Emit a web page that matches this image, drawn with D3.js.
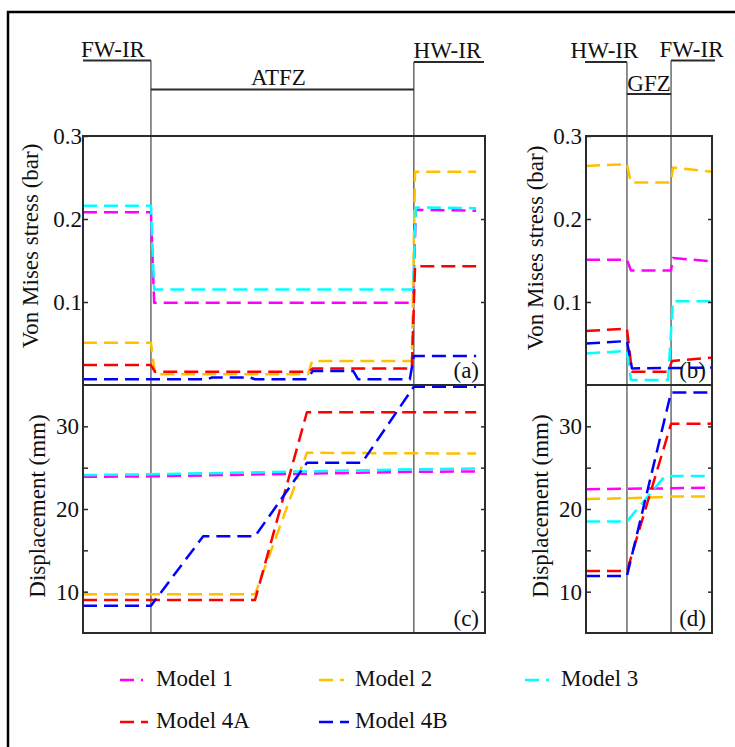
<!DOCTYPE html>
<html><head><meta charset="utf-8">
<script src="https://cdn.jsdelivr.net/npm/d3@7"></script>
<style>
html,body{margin:0;padding:0;background:#fff;}
svg{display:block;font-family:"Liberation Serif","Times New Roman",serif;}
</style></head><body>
<svg id="chart" width="735" height="747"></svg>
<script>
// ---------------- data ----------------
const models = ["Model 1", "Model 2", "Model 3", "Model 4A", "Model 4B"];
const colors = ["#ff00ff", "#ffc000", "#00ffff", "#ff0000", "#0000ff"];

// left profile (ATFZ), normalized distance 0-100
const zonesLeft = ["FW-IR", "ATFZ", "HW-IR"];
const boundsLeft = [16.9, 82.3];
// right profile (GFZ), normalized distance 0-100
const zonesRight = ["HW-IR", "GFZ", "FW-IR"];
const boundsRight = [32.5, 67.5];

const stressTicks = [0.1, 0.2, 0.3];
const dispTicks = [10, 15, 20, 25, 30];
const dispLabels = [10, 20, 30];

// (a) Von Mises stress, ATFZ profile  [x, stress]
const aModel1  = [[0,0.208],[16.9,0.208],[17.7,0.099],[82.1,0.099],[82.8,0.211],[97.8,0.210]];
const aModel2  = [[0,0.051],[16.9,0.051],[17.9,0.013],[56.0,0.013],[57.0,0.029],[81.8,0.029],[82.6,0.257],[97.8,0.257]];
const aModel3  = [[0,0.216],[16.9,0.216],[17.7,0.115],[82.1,0.115],[82.8,0.214],[97.8,0.213]];
const aModel4A = [[0,0.024],[16.9,0.024],[17.9,0.016],[56.0,0.016],[57.2,0.020],[81.8,0.020],[82.6,0.143],[97.8,0.143]];
const aModel4B = [[0,0.007],[30.9,0.007],[32.1,0.009],[41.5,0.009],[42.8,0.007],[55.7,0.007],[57.2,0.017],[67.2,0.017],[68.4,0.007],[81.3,0.007],[82.3,0.035],[97.8,0.035]];

// (b) Von Mises stress, GFZ profile
const bModel1  = [[0,0.151],[32.5,0.151],[35.7,0.138],[67.5,0.138],[69.0,0.153],[100,0.149]];
const bModel2  = [[0,0.264],[32.5,0.266],[35.7,0.244],[67.5,0.244],[69.0,0.262],[100,0.257]];
const bModel3  = [[0,0.038],[32.5,0.041],[35.7,0.006],[65.1,0.006],[69.0,0.101],[100,0.101]];
const bModel4A = [[0,0.065],[32.5,0.068],[36.5,0.016],[65.1,0.016],[68.3,0.029],[100,0.033]];
const bModel4B = [[0,0.050],[32.5,0.053],[36.5,0.020],[100,0.021]];

// (c) Displacement, ATFZ profile  [x, mm]
const cModel1  = [[0,23.9],[16.9,23.95],[82.3,24.5],[97.8,24.55]];
const cModel2  = [[0,9.7],[42.8,9.7],[55.7,26.8],[97.8,26.7]];
const cModel3  = [[0,24.1],[16.9,24.2],[82.3,24.8],[97.8,24.9]];
const cModel4A = [[0,9.0],[42.8,9.0],[55.7,31.7],[97.8,31.7]];
const cModel4B = [[0,8.3],[16.9,8.3],[29.9,16.7],[42.8,16.7],[55.7,25.6],[69.4,25.6],[82.3,34.8],[97.8,34.8]];

// (d) Displacement, GFZ profile
const dModel1  = [[0,22.4],[32.5,22.45],[67.5,22.5],[100,22.6]];
const dModel2  = [[0,21.2],[32.5,21.3],[67.5,21.5],[100,21.5]];
const dModel3  = [[0,18.5],[32.5,18.5],[62.7,24.0],[100,24.0]];
const dModel4A = [[0,12.5],[32.5,12.5],[67.5,30.3],[100,30.3]];
const dModel4B = [[0,11.9],[32.5,11.9],[67.5,34.1],[100,34.1]];

// ---------------- drawing ----------------
const svg = d3.select("#chart");
const FONT = 23;
const dash = "14,7";
const frameColor = "#2b2b2b";

// outer frame
svg.append("rect").attr("x", 8).attr("y", 12).attr("width", 900).attr("height", 900)
  .attr("fill", "none").attr("stroke", "#000").attr("stroke-width", 2.5);

const xLeft = d3.scaleLinear().domain([0, 100]).range([83, 485]);
const xRight = d3.scaleLinear().domain([0, 100]).range([586, 712]);
const yStress = d3.scaleLinear().domain([0, 0.3]).range([385, 136]);
const yDisp = d3.scaleLinear().domain([5, 35]).range([633, 385]);

// zone boundary lines and header
function header(x, bounds, zones, cfg) {
  const edges = [0, bounds[0], bounds[1], 100];
  // vertical boundaries
  bounds.forEach((b, i) => {
    svg.append("line")
      .attr("x1", x(b)).attr("x2", x(b))
      .attr("y1", cfg.vTop[i]).attr("y2", 633)
      .attr("stroke", "#444").attr("stroke-width", 1.2);
  });
  zones.forEach((z, i) => {
    const x0 = x(edges[i]) + cfg.ext[i][0], x1 = x(edges[i + 1]) + cfg.ext[i][1];
    svg.append("line").attr("x1", x0).attr("x2", x1)
      .attr("y1", cfg.lineY[i]).attr("y2", cfg.lineY[i])
      .attr("stroke", frameColor).attr("stroke-width", 2);
    svg.append("text").attr("x", (x(edges[i]) + x(edges[i + 1])) / 2 + cfg.dx[i])
      .attr("y", cfg.textY[i]).attr("text-anchor", "middle")
      .attr("font-size", FONT).attr("fill", "#111").text(z);
  });
}
header(xLeft, boundsLeft, zonesLeft, {
  vTop: [60.5, 62], lineY: [60.5, 89.5, 62], textY: [57, 85, 58],
  dx: [-4, -4, -2], ext: [[0, 0], [0, 0], [0, -1]]
});
header(xRight, boundsRight, zonesRight, {
  vTop: [62, 60.5], lineY: [62, 94, 60.5], textY: [58, 90.5, 57],
  dx: [-2, 0, 0], ext: [[-1, 0], [0, 0], [0, 3]]
});

const line = (x, y) => d3.line().x(d => x(d[0])).y(d => y(d[1]));

function panel(x, y, seriesList, opt) {
  const g = svg.append("g");
  const [x0, x1] = x.range();
  const [y0, y1] = y.range();
  // series
  seriesList.forEach((s, i) => {
    g.append("path").datum(s).attr("d", line(x, y))
      .attr("fill", "none").attr("stroke", colors[i])
      .attr("stroke-width", 2.5).attr("stroke-dasharray", dash)
      .attr("stroke-linejoin", "round");
  });
  // left axis
  const la = g.append("g").attr("transform", `translate(${x0},0)`)
    .call(d3.axisLeft(y).tickValues(opt.ticks).tickSize(-5).tickPadding(opt.pad)
      .tickFormat(opt.fmt));
  la.select(".domain").remove();
  la.selectAll("line").attr("stroke", frameColor).attr("stroke-width", 1.5);
  la.selectAll("text").attr("font-size", FONT).attr("fill", "#111")
    .attr("font-family", '"Liberation Serif","Times New Roman",serif');
  // right axis ticks
  const ra = g.append("g").attr("transform", `translate(${x1},0)`)
    .call(d3.axisRight(y).tickValues(opt.rticks).tickSize(-4).tickFormat(""));
  ra.select(".domain").remove();
  ra.selectAll("line").attr("stroke", frameColor).attr("stroke-width", 1.5);
  // frame
  g.append("rect").attr("x", x0).attr("y", y1).attr("width", x1 - x0).attr("height", y0 - y1)
    .attr("fill", "none").attr("stroke", frameColor).attr("stroke-width", 2);
  // y title
  g.append("text").attr("transform", `translate(${opt.titleX},${opt.titleY}) rotate(-90)`)
    .attr("text-anchor", "middle").attr("font-size", FONT).attr("fill", "#111")
    .text(opt.title);
  // panel tag
  g.append("text").attr("x", x1 - 6).attr("y", y0 - 7).attr("text-anchor", "end")
    .attr("font-size", FONT).attr("fill", "#111").text(opt.tag);
}

const fmtStress = d3.format(".1f");
const fmtDisp = d => dispLabels.includes(d) ? d : "";

panel(xLeft, yStress, [aModel1, aModel2, aModel3, aModel4A, aModel4B], {
  ticks: stressTicks, rticks: [0.1, 0.2], pad: 1, fmt: fmtStress,
  title: "Von Mises stress (bar)", titleX: 38, titleY: 246, tag: "(a)"
});
panel(xRight, yStress, [bModel1, bModel2, bModel3, bModel4A, bModel4B], {
  ticks: stressTicks, rticks: [0.1, 0.2], pad: 4, fmt: fmtStress,
  title: "Von Mises stress (bar)", titleX: 543, titleY: 248, tag: "(b)"
});
panel(xLeft, yDisp, [cModel1, cModel2, cModel3, cModel4A, cModel4B], {
  ticks: dispTicks, rticks: dispTicks, pad: 4, fmt: fmtDisp,
  title: "Displacement (mm)", titleX: 45, titleY: 506, tag: "(c)"
});
panel(xRight, yDisp, [dModel1, dModel2, dModel3, dModel4A, dModel4B], {
  ticks: dispTicks, rticks: dispTicks, pad: 4, fmt: fmtDisp,
  title: "Displacement (mm)", titleX: 548, titleY: 506, tag: "(d)"
});

// legend
const legCols = [120, 319, 525];
const legRows = [680, 722];
const sampleLen = [23, 25, 24, 28, 30];
models.forEach((m, i) => {
  const col = i < 3 ? i : i - 3, row = i < 3 ? 0 : 1;
  const lx = legCols[col], ly = legRows[row];
  svg.append("line").attr("x1", lx).attr("x2", lx + sampleLen[i])
    .attr("y1", ly).attr("y2", ly)
    .attr("stroke", colors[i]).attr("stroke-width", 2.5).attr("stroke-dasharray", dash);
  svg.append("text").attr("x", lx + 36).attr("y", ly + 6)
    .attr("font-size", FONT).attr("fill", "#111").text(m);
});
</script>
</body></html>
